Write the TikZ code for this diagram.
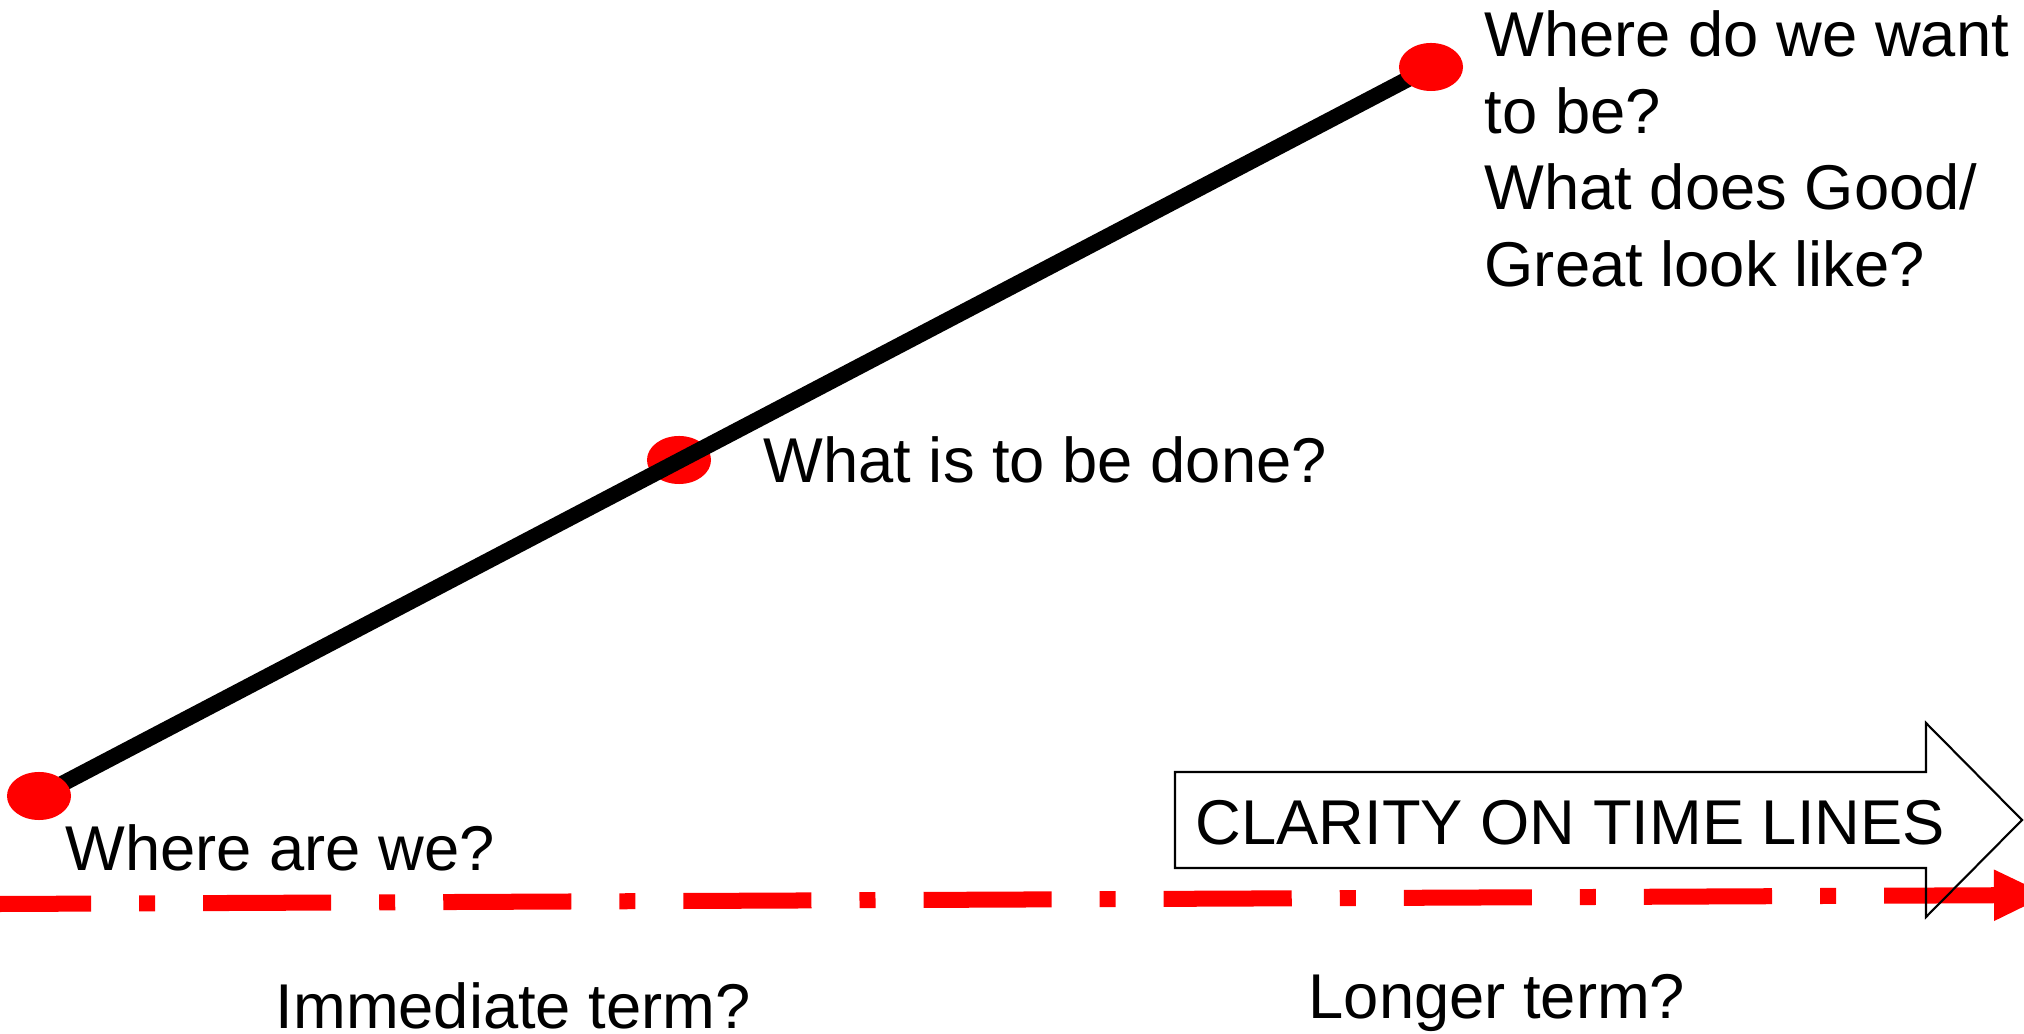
\documentclass[tikz,border=0pt]{standalone}
\usepackage{fontspec}
\setmainfont{Liberation Sans}
\usetikzlibrary{arrows.meta,shapes.geometric}
\begin{document}
\begin{tikzpicture}[x=0.01cm, y=-0.01cm,
    dot/.style={ellipse, fill=red, minimum width=0.64cm, minimum height=0.48cm, inner sep=0pt},
    qtext/.style={inner sep=0pt, font=\fontsize{18}{21.8}\selectfont, anchor=base west}]
      \useasboundingbox (0,0) rectangle (2024,1034);
      \clip (0,0) rectangle (2024,1034);
      %
      \coordinate (tl0) at (0,904);            % time line
      \coordinate (tl1) at (2049,895);
      \draw[red, line width=0.16cm, dash pattern=on 1.28cm off 0.48cm on 0.16cm off 0.48cm,
            dash phase=0.37cm, -{Triangle[length=0.55cm, width=0.47cm]}] (tl0) -- (tl1);
      %
      \draw[line width=0.6pt] (1175,772) -- (1926,772) -- (1926,723) -- (2022,820)
            -- (1926,917) -- (1926,868) -- (1175,868) -- cycle;   % clarity arrow
      \node[qtext] (clarity) at (1195,844) {CLARITY ON TIME LINES};
      %
      \coordinate (now) at (39,796);           % path
      \coordinate (goal) at (1431,67);
      \node[dot] (mid) at (679,460) {};
      \draw[line width=0.16cm] (now) -- (goal);
      \node[dot] (nowdot) at (now) {};
      \node[dot] (goaldot) at (goal) {};
      %
      \node[qtext, anchor=north west, align=left] (goaltext) at (1484,10)
            {Where do we want\\to be?\\What does Good/\\Great look like?};
      \node[qtext] (midtext) at (763,483) {What is to be done?};
      \node[qtext] (nowtext) at (65,870) {Where are we?};
      %
      \node[qtext] (shortterm) at (275,1028) {Immediate term?};   % terms
      \node[qtext] (longterm) at (1308,1018) {Longer term?};
      %
    \end{tikzpicture}
\end{document}
